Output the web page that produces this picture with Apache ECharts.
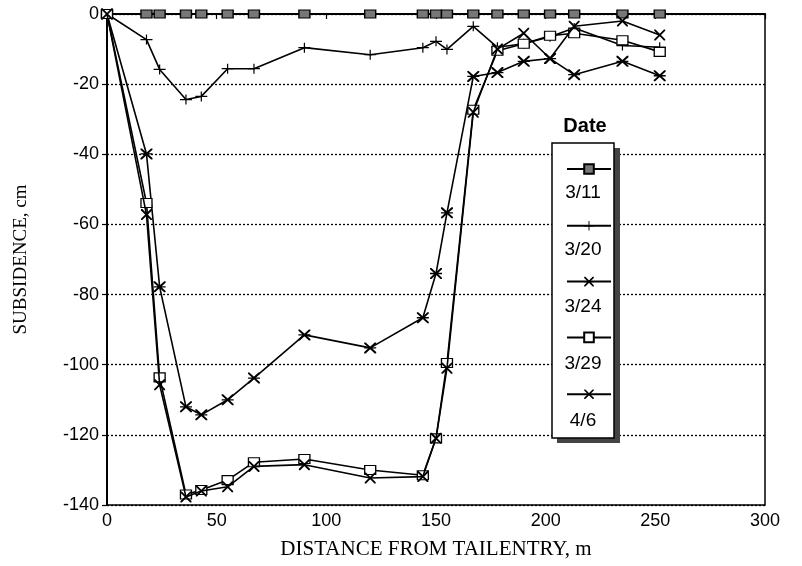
<!DOCTYPE html>
<html><head><meta charset="utf-8">
<script src="https://cdn.jsdelivr.net/npm/echarts@6/dist/echarts.min.js"></script>
<style>html,body{margin:0;padding:0;background:#fff}#c{width:802px;height:566px}</style>
</head><body><div id="c"></div>
<script>
const distances = [0,18,24,36,43,55,67,90,120,144,150,155,167,178,190,202,213,235,252];
const s0311 = [0,0,0,0,0,0,0,0,0,0,0,0,0,0,0,0,0,0,0];
const s0320 = [0,-7.3,-15.8,-24.4,-23.5,-15.6,-15.6,-9.6,-11.6,-9.6,-7.8,-10.1,-3.5,-9.5,-8.5,-6.5,-4,-9,-9.5];
const s0324 = [0,-39.9,-77.8,-112,-114.3,-110,-103.8,-91.5,-95.2,-86.6,-74,-56.7,-17.8,-16.7,-13.5,-12.7,-17.3,-13.5,-17.6];
const s0329 = [0,-53.9,-103.6,-137,-135.7,-132.9,-127.8,-126.9,-130,-131.5,-121,-99.5,-27.3,-10.5,-8.5,-6.2,-5.5,-7.5,-10.8];
const s0406 = [0,-57.2,-105.7,-137.7,-136,-134.8,-129,-128.5,-132.3,-131.9,-121,-101,-28,-10,-5.5,-12.7,-3.5,-2,-6];
const seriesNames = ['3/11','3/20','3/24','3/29','4/6'];
const xTicks = [0,50,100,150,200,250,300];
const yTicks = [-140,-120,-100,-80,-60,-40,-20,0];

const PLUS = 'path://M0,4.4L12,4.4L12,5.6L0,5.6Z M5.4,0L6.6,0L6.6,10L5.4,10Z';
const XSYM = 'path://M0,0L1.2,0L10,8.8L10,10L8.8,10L0,1.2Z M8.8,0L10,0L10,1.2L1.2,10L0,10L0,8.8Z';
const AST = 'path://M0,0L1.2,0L10,8.8L10,10L8.8,10L0,1.2Z M8.8,0L10,0L10,1.2L1.2,10L0,10L0,8.8Z M0,4.4L10,4.4L10,5.6L0,5.6Z';

function pairs(vals){ return distances.map((d,i)=>[d, vals[i]]); }
const styles = [
  {symbol:'rect', symbolSize:[11,8], itemStyle:{color:'#777', borderColor:'#000', borderWidth:1.2}},
  {symbol:PLUS, symbolSize:[12,10], itemStyle:{color:'#000'}},
  {symbol:AST, symbolSize:[12,11], itemStyle:{color:'#000'}},
  {symbol:'rect', symbolSize:[11,9], itemStyle:{color:'#fff', borderColor:'#000', borderWidth:1.2}},
  {symbol:XSYM, symbolSize:[11,11], itemStyle:{color:'#000'}}
];
const allVals = [s0311,s0320,s0324,s0329,s0406];
const series = seriesNames.map((n,i)=>Object.assign({
  name:n, type:'line', data:pairs(allVals[i]), showSymbol:true,
  lineStyle:{color:'#000', width:1.6}, z:3+i, animation:false
}, styles[i]));

const labelFont = {color:'#000', fontFamily:'Liberation Sans', fontSize:18};
const legendTop = 158, legendStep = 57;
const graphics = [
  {type:'rect', z:10, shape:{x:557,y:148,width:63,height:295}, style:{fill:'#444'}},
  {type:'rect', z:11, shape:{x:552,y:143,width:62,height:295}, style:{fill:'#fff', stroke:'#000', lineWidth:1.5}},
  {type:'text', z:11, x:585, y:126, style:{text:'Date', font:'bold 20px "Liberation Sans"', fill:'#000', textAlign:'center', textVerticalAlign:'middle'}}
];
seriesNames.forEach((n,i)=>{
  graphics.push({type:'text', z:12, x:583, y:legendTop+6+29+i*legendStep,
    style:{text:n, font:'19px "Liberation Sans"', fill:'#000', textAlign:'center', textVerticalAlign:'middle'}});
});

const chart = echarts.init(document.getElementById('c'));
chart.setOption({
  animation:false,
  backgroundColor:'#fff',
  grid:{left:107, right:37, top:14, bottom:61, show:true, borderColor:'#000', borderWidth:1.5},
  xAxis:{type:'value', min:0, max:300, interval:50,
    name:'DISTANCE FROM TAILENTRY, m', nameLocation:'middle', nameGap:34,
    nameTextStyle:{color:'#000', fontFamily:'Liberation Serif', fontSize:21},
    axisLine:{lineStyle:{color:'#000', width:2}},
    axisTick:{show:true, length:5, lineStyle:{color:'#000', width:1.2}},
    axisLabel:Object.assign({margin:7, formatter:v=>xTicks.includes(v)?String(v):''}, labelFont),
    splitLine:{show:false}},
  yAxis:{type:'value', min:-140, max:0, interval:20,
    name:'SUBSIDENCE, cm', nameLocation:'middle', nameGap:76,
    nameTextStyle:{color:'#000', fontFamily:'Liberation Serif', fontSize:19},
    axisLine:{show:true, lineStyle:{color:'#000', width:2}},
    axisTick:{show:true, length:5, lineStyle:{color:'#000', width:1.2}},
    axisLabel:Object.assign({margin:8, formatter:v=>yTicks.includes(v)?String(v):''}, labelFont),
    splitLine:{show:true, lineStyle:{color:'#000', type:[2,2], width:1.3}}},
  legend:{show:true, data:seriesNames, orient:'vertical', left:561, top:legendTop,
    itemWidth:44, itemHeight:12, itemGap:legendStep-12, selectedMode:false, z:20,
    formatter:()=>'', textStyle:{fontSize:1}},
  graphic:graphics,
  series:series
});
</script></body></html>
